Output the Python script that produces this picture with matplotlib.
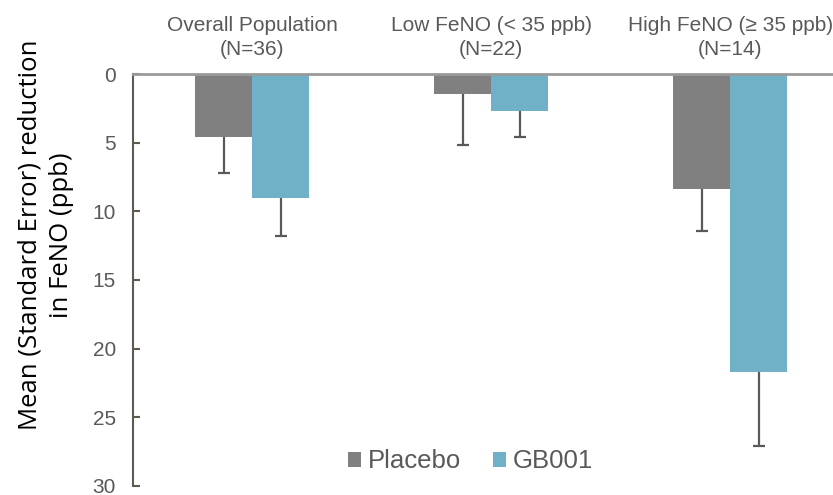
import matplotlib
matplotlib.use('Agg')
import matplotlib.pyplot as plt
import numpy as np

# FeNO reduction by subgroup
groups = ['Overall Population\n(N=36)', 'Low FeNO (< 35 ppb)\n(N=22)', 'High FeNO (≥ 35 ppb)\n(N=14)']
placebo = [4.6, 1.45, 8.35]
placebo_se = [2.6, 3.7, 3.05]
gb001 = [9.0, 2.7, 21.7]
gb001_se = [2.8, 1.9, 5.4]
yticks = [0, 5, 10, 15, 20, 25, 30]

grey_txt = '#595959'
plt.rcParams['font.family'] = ['Liberation Sans', 'DejaVu Sans']

fig = plt.figure(figsize=(8.33, 4.95), dpi=100)
ax = fig.add_axes([0.1593, 0.0182, 0.8407, 0.8323])

x = np.arange(len(groups))
w = 0.238
err_kw = dict(ecolor='#595959', elinewidth=1.6, capsize=4.3, capthick=1.6)
bars_p = ax.bar(x - w / 2, placebo, w, color='#808080', label='Placebo',
                yerr=[np.zeros(3), placebo_se], error_kw=err_kw, zorder=2)
bars_g = ax.bar(x + w / 2, gb001, w, color='#71b1c8', label='GB001',
                yerr=[np.zeros(3), gb001_se], error_kw=err_kw, zorder=2)
# one-sided error bars: hide the cap sitting on the bar end
for b in (bars_p, bars_g):
    b.errorbar.lines[1][0].set_visible(False)

ax.set_ylim(30, 0)
ax.set_xlim(-0.5, 2.43)
ax.set_yticks(yticks)
ax.tick_params(axis='y', labelsize=15, labelcolor=grey_txt, color='#5f5a50',
               length=5, width=1.5, direction='in', pad=12)
ax.set_xticks([])

for s in ['right', 'bottom']:
    ax.spines[s].set_visible(False)
ax.spines['left'].set_color('#5f5a50')
ax.spines['left'].set_linewidth(1.5)
ax.spines['top'].set_color('#9a9a9a')
ax.spines['top'].set_linewidth(2)

for xi, g in zip(x, groups):
    ax.text(xi, -1.1, g, ha='center', va='bottom', fontsize=15, color=grey_txt,
            linespacing=1.3)

fig.text(0.055, 0.525, 'Mean (Standard Error) reduction\nin FeNO (ppb)', rotation=90,
         ha='center', va='center', fontsize=18.5, family=['Open Sans', 'DejaVu Sans'],
         linespacing=1.35)

leg = ax.legend(loc='center', bbox_to_anchor=(0.482, 0.06), ncol=2, frameon=False,
                fontsize=18.5, handlelength=0.52, handleheight=0.52, handletextpad=0.25,
                columnspacing=1.25, borderpad=0)
for t in leg.get_texts():
    t.set_color(grey_txt)

fig.savefig('out.png', dpi=100)
